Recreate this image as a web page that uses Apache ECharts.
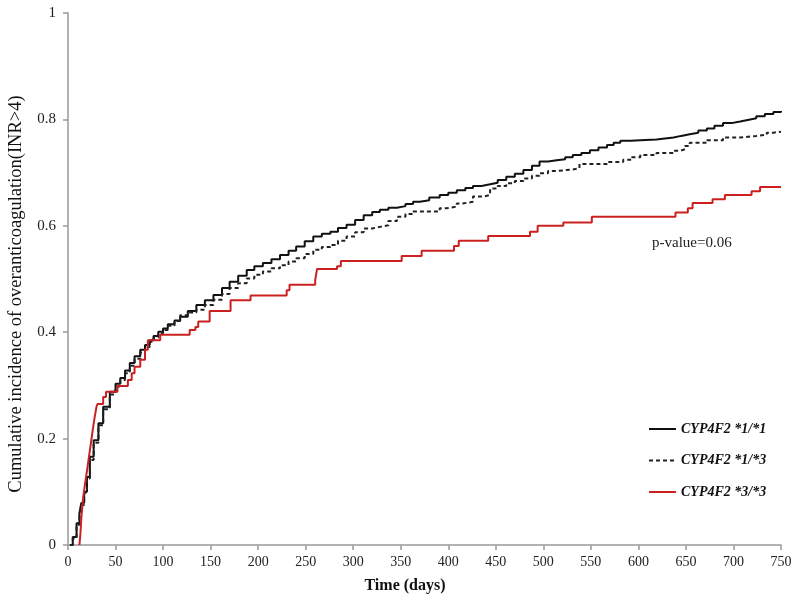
<!DOCTYPE html>
<html>
<head>
<meta charset="utf-8">
<script src="https://cdn.jsdelivr.net/npm/echarts@6/dist/echarts.min.js"></script>
<style>html,body{margin:0;padding:0;background:#fff}#c{width:800px;height:604px}</style>
</head>
<body>
<div id="c"></div>
<script>
var seriesNames = ['CYP4F2 *1/*1', 'CYP4F2 *1/*3', 'CYP4F2 *3/*3'];
var xTicks = [0, 750, 50];
var yTicks = [0, 1, 0.2];
var pValueText = 'p-value=0.06';

var s11 = [[2,0],[5,0.015],[9,0.041],[12,0.06],[14,0.079],[17,0.1],[20,0.128],[23,0.166],[27,0.197],[32,0.229],[37,0.26],[44,0.288],[50,0.303],[55,0.314],[60,0.328],[65,0.342],[70,0.355],[76,0.367],[81,0.376],[86,0.385],[90,0.393],[95,0.401],[100,0.407],[105,0.415],[112,0.422],[118,0.429],[126,0.44],[135,0.451],[144,0.46],[153,0.47],[162,0.483],[170,0.495],[179,0.506],[188,0.517],[196,0.524],[205,0.53],[214,0.537],[223,0.545],[232,0.553],[240,0.561],[249,0.571],[258,0.58],[267,0.585],[276,0.589],[284,0.596],[293,0.602],[302,0.611],[311,0.62],[320,0.626],[328,0.63],[337,0.634],[346,0.637],[355,0.641],[363,0.645],[370,0.648],[380,0.653],[391,0.658],[400,0.662],[409,0.667],[418,0.671],[426,0.675],[435,0.678],[444,0.681],[452,0.686],[461,0.692],[470,0.698],[479,0.705],[488,0.713],[496,0.721],[505,0.723],[514,0.725],[523,0.729],[531,0.733],[540,0.737],[549,0.742],[558,0.747],[567,0.752],[574,0.756],[581,0.76],[592,0.761],[602,0.762],[619,0.764],[628,0.766],[637,0.769],[645,0.772],[654,0.775],[663,0.779],[672,0.783],[680,0.788],[689,0.793],[698,0.796],[707,0.799],[715,0.802],[724,0.806],[733,0.81],[742,0.814],[750,0.816]];

var s13 = [[2,0],[5,0.012],[9,0.038],[12,0.058],[14,0.075],[17,0.098],[20,0.125],[23,0.16],[27,0.192],[32,0.225],[37,0.255],[44,0.283],[50,0.298],[55,0.31],[60,0.323],[65,0.337],[70,0.35],[76,0.362],[81,0.372],[86,0.382],[90,0.39],[95,0.398],[100,0.404],[105,0.412],[112,0.421],[118,0.432],[126,0.437],[135,0.442],[144,0.451],[153,0.461],[162,0.472],[170,0.483],[179,0.492],[188,0.501],[196,0.508],[205,0.514],[214,0.52],[223,0.526],[232,0.533],[240,0.539],[249,0.547],[258,0.555],[267,0.56],[276,0.564],[284,0.572],[293,0.58],[302,0.588],[311,0.595],[320,0.598],[328,0.601],[337,0.609],[346,0.617],[355,0.622],[363,0.627],[381,0.627],[391,0.633],[398,0.636],[409,0.642],[415,0.645],[426,0.655],[437,0.658],[444,0.67],[452,0.675],[461,0.68],[470,0.684],[479,0.689],[488,0.694],[496,0.699],[505,0.703],[514,0.706],[531,0.708],[538,0.716],[567,0.72],[584,0.724],[593,0.729],[602,0.733],[619,0.737],[637,0.741],[644,0.744],[649,0.75],[654,0.756],[672,0.761],[689,0.766],[707,0.769],[724,0.771],[735,0.775],[742,0.777],[750,0.777]];

var s33 = [[12,0],[13,0.02],[14,0.05],[16,0.09],[18,0.116],[20,0.14],[22,0.165],[24,0.19],[26,0.216],[28,0.24],[30,0.26],[31,0.265],[37,0.278],[40,0.288],[52,0.299],[63,0.31],[67,0.323],[70,0.335],[76,0.348],[81,0.367],[84,0.385],[97,0.395],[128,0.404],[134,0.41],[137,0.42],[149,0.44],[171,0.46],[192,0.469],[230,0.479],[233,0.489],[260,0.498],[262,0.519],[283,0.524],[287,0.534],[351,0.543],[372,0.553],[406,0.562],[411,0.572],[442,0.581],[486,0.589],[494,0.6],[521,0.606],[551,0.617],[639,0.625],[652,0.633],[657,0.643],[678,0.65],[691,0.658],[719,0.665],[728,0.673],[750,0.673]];

var FONT = '"Liberation Serif", "Times New Roman", serif';
var chart = echarts.init(document.getElementById('c'), null, {renderer: 'canvas'});
chart.setOption({
  animation: false,
  backgroundColor: '#fff',
  grid: {left: 68, right: 19, top: 13, bottom: 59, containLabel: false, outerBoundsMode: 'none'},
  xAxis: {
    type: 'value', min: xTicks[0], max: xTicks[1], interval: xTicks[2],
    name: 'Time (days)', nameLocation: 'middle', nameGap: 33,
    nameTextStyle: {fontFamily: FONT, fontSize: 16, fontWeight: 'bold', color: '#111', padding: [0, 39, 0, 0]},
    axisLine: {lineStyle: {color: '#999', width: 1.5}},
    axisTick: {inside: false, length: 5, lineStyle: {color: '#999', width: 1.5}},
    axisLabel: {fontFamily: FONT, fontSize: 14, color: '#222', margin: 10},
    splitLine: {show: false}
  },
  yAxis: {
    type: 'value', min: yTicks[0], max: yTicks[1], interval: yTicks[2],
    name: 'Cumulative incidence of overanticoagulation(INR>4)', nameLocation: 'middle', nameRotate: 90, nameGap: 42,
    nameTextStyle: {fontFamily: FONT, fontSize: 18.5, color: '#111', padding: [0, 30, 0, 0]},
    axisLine: {show: true, lineStyle: {color: '#999', width: 1.5}},
    axisTick: {show: true, inside: false, length: 5, lineStyle: {color: '#999', width: 1.5}},
    axisLabel: {fontFamily: FONT, fontSize: 15, color: '#222', margin: 12},
    splitLine: {show: false}
  },
  legend: {
    orient: 'vertical', left: 648, top: 422, padding: 0, itemWidth: 27, itemHeight: 14, itemGap: 17.5,
    itemStyle: {opacity: 0},
    textStyle: {fontFamily: FONT, fontSize: 14, fontStyle: 'italic', fontWeight: 'bold', color: '#111'},
    data: seriesNames
  },
  graphic: [{
    type: 'text', left: 652, top: 236,
    style: {text: pValueText, font: '15px ' + FONT, fill: '#222'}
  }],
  series: [
    {name: seriesNames[0], type: 'line', step: 'end', data: s11, symbol: 'none', lineStyle: {color: '#111', width: 2}, itemStyle: {color: '#111'}},
    {name: seriesNames[1], type: 'line', step: 'end', data: s13, symbol: 'none', lineStyle: {color: '#222', width: 2, type: [4, 3]}, itemStyle: {color: '#222'}},
    {name: seriesNames[2], type: 'line', step: 'end', data: s33, symbol: 'none', lineStyle: {color: '#cc2020', width: 2}, itemStyle: {color: '#cc2020'}}
  ]
});
</script>
</body>
</html>
